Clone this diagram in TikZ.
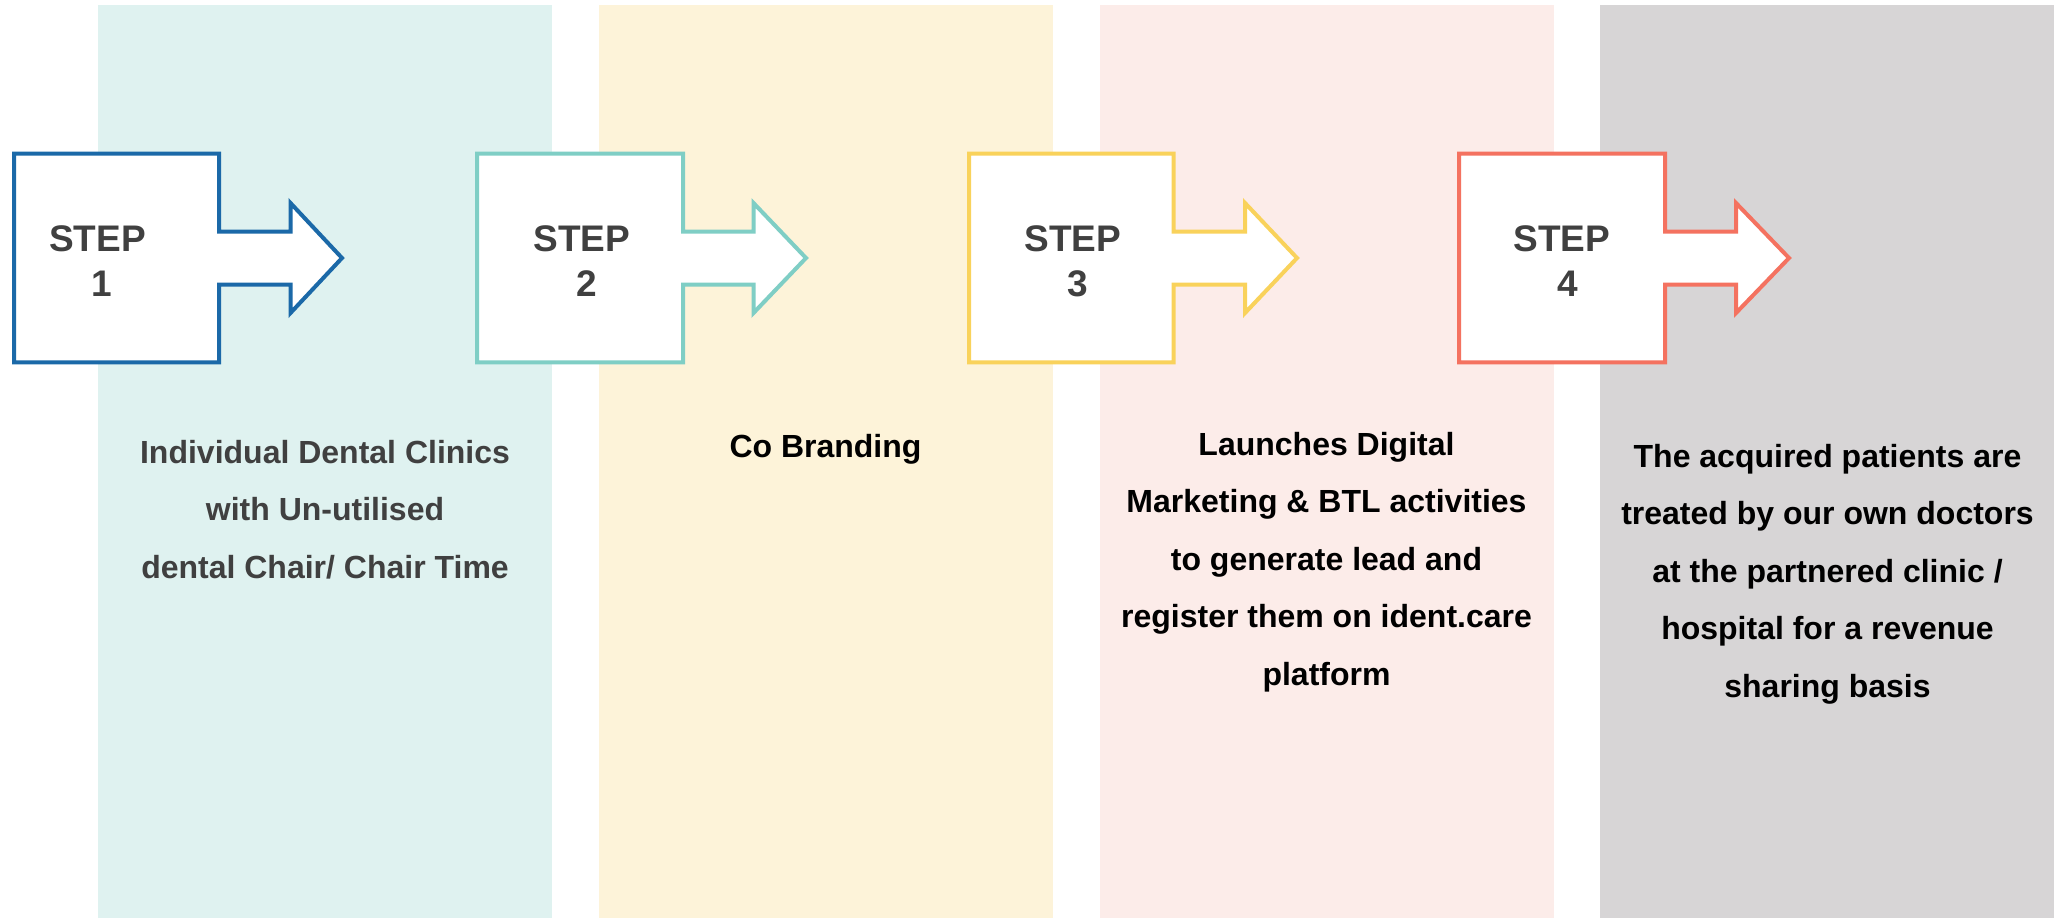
\documentclass[tikz,border=0pt]{standalone}
\usepackage{fontspec}
\setmainfont{Liberation Sans}
\definecolor{bgA}{HTML}{DFF2F0}
\definecolor{bgB}{HTML}{FDF3D9}
\definecolor{bgC}{HTML}{FCECE9}
\definecolor{bgD}{HTML}{D7D5D6}
\definecolor{arA}{HTML}{1B69A8}
\definecolor{arB}{HTML}{7FCEC5}
\definecolor{arC}{HTML}{F9D25B}
\definecolor{arD}{HTML}{F47260}
\definecolor{txtgray}{HTML}{404040}
\tikzset{
  colbox/.style={draw=none},
  steparrow/.style={line width=2pt, fill=white, line join=miter},
  steplabel/.style={anchor=base, align=center, inner sep=0pt, text=txtgray,
    font=\fontsize{18.5}{22.5}\selectfont\bfseries},
  desc/.style={anchor=base, align=center, inner sep=0pt,
    font=\fontsize{16}{28.75}\selectfont\bfseries}
}
\newcommand{\stepshape}[5]{%
  % #1 color, #2 left, #3 right, #4 head base, #5 tip
  \draw[steparrow, draw=#1] (#2,153.5) -- (#3,153.5) -- (#3,231.5) -- (#4,231.5) -- (#4,203)
    -- (#5,258) -- (#4,313) -- (#4,284.7) -- (#3,284.7) -- (#3,362.3) -- (#2,362.3) -- cycle;%
}
\begin{document}
\begin{tikzpicture}[x=0.5pt,y=-0.5pt]
\useasboundingbox (0,0) rectangle (2054,918);
\fill[white] (0,0) rectangle (2054,918);
% columns
\fill[bgA] (98,5) rectangle (552,918);
\fill[bgB] (599,5) rectangle (1053,918);
\fill[bgC] (1100,5) rectangle (1554,918);
\fill[bgD] (1600,5) rectangle (2054,918);
% arrows
\stepshape{arA}{14}{219}{290.5}{342}
\stepshape{arB}{477}{683}{753.5}{806}
\stepshape{arC}{969}{1173.7}{1245}{1297}
\stepshape{arD}{1459}{1665}{1736}{1789}
% step labels (anchor = baseline of last line)
\node[steplabel] (s1) at (97.5,296) {STEP\\\hspace*{4.5pt}1};
\node[steplabel] (s2) at (582,296) {STEP\\\hspace*{4.5pt}2};
\node[steplabel] (s3) at (1073,296) {STEP\\\hspace*{4.5pt}3};
\node[steplabel] (s4) at (1562,296) {STEP\\\hspace*{6pt}4};
% descriptions (anchor = baseline of last line)
\node[desc, text=txtgray] (d1) at (325,578) {Individual Dental Clinics\\with Un-utilised\\dental Chair/ Chair Time};
\node[desc, text=black] (d2) at (825.5,457) {Co Branding};
\node[desc, text=black] (d3) at (1326.5,685) {Launches Digital\\Marketing \& BTL activities\\to generate lead and\\register them on ident.care\\platform};
\node[desc, text=black] (d4) at (1827.5,697) {The acquired patients are\\treated by our own doctors\\at the partnered clinic /\\hospital for a revenue\\sharing basis};
\end{tikzpicture}
\end{document}
